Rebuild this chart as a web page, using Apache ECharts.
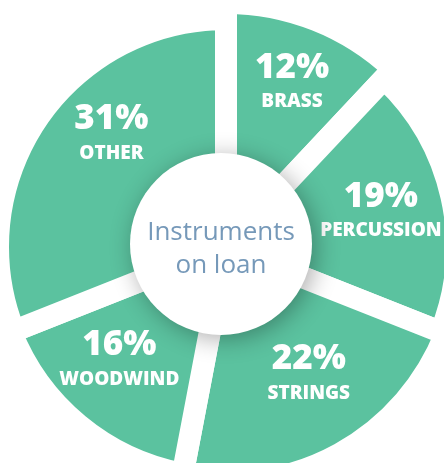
<!DOCTYPE html>
<html>
<head>
<meta charset="utf-8">
<script src="https://cdn.jsdelivr.net/npm/echarts@6/dist/echarts.min.js"></script>
<style>
html,body{margin:0;padding:0;background:#fff;}
#chart{width:444px;height:463px;}
</style>
</head>
<body>
<div id="chart"></div>
<script>
// ---- data ----
const categories = ['BRASS', 'PERCUSSION', 'STRINGS', 'WOODWIND', 'OTHER'];
const shares = [12, 19, 22, 16, 31];
const centerTitle = ['Instruments', 'on loan'];

// ---- style ----
const GREEN = '#5bc29f';
const GAP = 22;
const pieCenter = [226, 247];
const visibleOuter = [233, 220, 225, 220, 217];
const labelNudge = [[9, -18], [10, -1], [10, -3], [-12, 1], [7, -28]];
const FONT = 'Open Sans';

const chart = echarts.init(document.getElementById('chart'), null, {renderer: 'canvas'});

const series = categories.map(function (cat, i) {
  return {
    type: 'pie',
    center: pieCenter,
    radius: [60, visibleOuter[i] + GAP / 2],
    startAngle: 90,
    clockwise: true,
    silent: true,
    animation: false,
    z: 2,
    labelLine: {show: false},
    emphasis: {disabled: true},
    label: {
      position: 'inside',
      formatter: '{p|{c}%}\n{n|{b}}',
      rich: {
        p: {fontSize: 35, fontWeight: 800, color: '#fff', fontFamily: FONT, lineHeight: 34},
        n: {fontSize: 19, fontWeight: 800, color: '#fff', fontFamily: FONT, lineHeight: 34}
      }
    },
    labelLayout: function (params) {
      if (params.dataIndex !== i) return {};
      return {dx: labelNudge[i][0], dy: labelNudge[i][1]};
    },
    data: categories.map(function (n, j) {
      return {
        name: n,
        value: shares[j],
        itemStyle: j === i
          ? {color: GREEN, borderColor: '#fff', borderWidth: GAP, borderJoin: 'miter'}
          : {color: 'rgba(0,0,0,0)', borderWidth: 0},
        label: {show: j === i}
      };
    })
  };
});

series.push({
  type: 'pie',
  center: [221, 244],
  radius: [0, 91],
  silent: true,
  animation: false,
  z: 5,
  labelLine: {show: false},
  emphasis: {disabled: true},
  itemStyle: {
    color: '#fff',
    shadowBlur: 24,
    shadowColor: 'rgba(0,0,0,0.32)',
    shadowOffsetX: 4,
    shadowOffsetY: 4
  },
  label: {
    show: true,
    position: 'center',
    formatter: centerTitle.join('\n'),
    color: '#7699b9',
    fontSize: 26,
    fontFamily: FONT,
    lineHeight: 33
  },
  labelLayout: {dy: 5},
  data: [{name: 'center', value: 1}]
});

chart.setOption({
  backgroundColor: '#fff',
  animation: false,
  series: series
});
</script>
</body>
</html>
